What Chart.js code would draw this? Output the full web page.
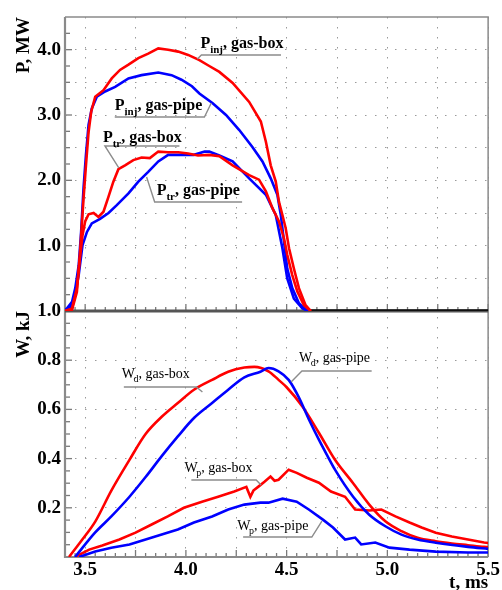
<!DOCTYPE html>
<html><head><meta charset="utf-8">
<script src="https://cdn.jsdelivr.net/npm/chart.js@4/dist/chart.umd.min.js"></script>
<style>html,body{margin:0;padding:0;background:#fff;}canvas{display:block;}</style>
</head><body>
<canvas id="c" width="502" height="590"></canvas>
<script>
// ---- tick values ----
const xTickValues = [3.5, 3.75, 4.0, 4.25, 4.5, 4.75, 5.0, 5.25, 5.5];
const pTickValues = [0.5, 1.0, 1.5, 2.0, 2.5, 3.0, 3.5, 4.0];
const wTickValues = [0.2, 0.4, 0.6, 0.8, 1.0];

// ---- top panel: power, MW ----
const pInjBoxT = [3.40,3.42,3.435,3.459,3.476,3.492,3.504,3.517,3.53,3.55,3.591,3.632,3.673,3.715,3.764,3.813,3.863,3.912,3.962,4.011,4.067,4.116,4.166,4.232,4.314,4.372,4.397,4.421,4.446,4.462,4.479,4.495,4.512,4.536,4.561,4.594,4.62];
const pInjBoxV = [0,0.01,0.02,0.29,0.96,1.72,2.23,2.74,3.05,3.28,3.38,3.56,3.69,3.77,3.87,3.94,4.02,4.00,3.97,3.92,3.84,3.75,3.66,3.49,3.20,2.90,2.59,2.23,1.98,1.67,1.47,1.27,0.96,0.65,0.35,0.09,0];

const pInjPipeT = [3.40,3.41,3.435,3.451,3.468,3.48,3.492,3.504,3.517,3.533,3.558,3.599,3.649,3.715,3.78,3.863,3.929,3.978,4.03,4.067,4.133,4.199,4.265,4.330,4.380,4.421,4.454,4.471,4.487,4.503,4.528,4.561,4.594,4.62];
const pInjPipeV = [0.02,0.04,0.14,0.35,0.70,1.21,1.88,2.39,2.85,3.10,3.28,3.36,3.43,3.56,3.61,3.65,3.61,3.54,3.44,3.33,3.18,3.00,2.77,2.51,2.29,2.03,1.78,1.47,1.06,0.65,0.35,0.12,0.02,0];

const pTrBoxT = [3.40,3.435,3.459,3.476,3.487,3.50,3.517,3.542,3.566,3.591,3.616,3.640,3.665,3.698,3.739,3.780,3.821,3.863,3.912,3.962,4.011,4.06,4.116,4.166,4.232,4.314,4.363,4.397,4.430,4.462,4.487,4.503,4.528,4.553,4.586,4.62];
const pTrBoxV = [0,0.04,0.35,0.86,1.16,1.37,1.48,1.50,1.44,1.52,1.75,1.98,2.17,2.23,2.31,2.35,2.34,2.44,2.43,2.43,2.41,2.38,2.39,2.37,2.23,2.08,2.01,1.83,1.57,1.37,1.11,0.86,0.55,0.30,0.09,0];

const pTrPipeT = [3.40,3.418,3.443,3.468,3.487,3.509,3.533,3.574,3.616,3.657,3.715,3.764,3.813,3.863,3.912,3.978,4.04,4.093,4.116,4.166,4.232,4.314,4.397,4.446,4.479,4.503,4.536,4.578,4.61];
const pTrPipeV = [0.01,0.02,0.14,0.55,1.01,1.21,1.34,1.41,1.50,1.62,1.80,1.98,2.13,2.29,2.39,2.39,2.39,2.44,2.44,2.38,2.29,2.03,1.78,1.47,0.96,0.50,0.19,0.04,0];

const pZeroT = [4.60, 5.50];
const pZeroV = [0, 0];

// ---- bottom panel: energy, kJ ----
const wdBoxT = [3.42,3.485,3.55,3.63,3.72,3.80,3.88,3.96,4.04,4.13,4.21,4.29,4.34,4.41,4.46,4.50,4.58,4.66,4.74,4.83,4.91,4.99,5.07,5.15,5.24,5.32,5.40,5.48,5.50];
const wdBoxV = [0.0,0.07,0.144,0.27,0.395,0.50,0.57,0.626,0.68,0.72,0.753,0.77,0.773,0.755,0.72,0.69,0.61,0.505,0.395,0.30,0.213,0.145,0.105,0.078,0.064,0.055,0.048,0.041,0.04];

const wdPipeT = [3.45,3.55,3.63,3.72,3.80,3.88,3.96,4.04,4.13,4.21,4.29,4.37,4.41,4.46,4.51,4.56,4.61,4.66,4.70,4.74,4.83,4.91,4.99,5.07,5.15,5.24,5.40,5.50];
const wdPipeV = [0.0,0.10,0.165,0.245,0.325,0.41,0.49,0.565,0.626,0.68,0.73,0.753,0.768,0.755,0.72,0.65,0.56,0.477,0.415,0.355,0.245,0.172,0.125,0.091,0.071,0.058,0.041,0.033];

const wpBoxT = [3.45,3.52,3.585,3.67,3.75,3.83,3.91,3.99,4.08,4.16,4.24,4.30,4.32,4.335,4.36,4.39,4.42,4.44,4.46,4.51,4.55,4.60,4.66,4.72,4.79,4.84,4.91,4.97,5.04,5.11,5.17,5.24,5.32,5.40,5.48,5.50];
const wpBoxV = [0.0,0.03,0.047,0.071,0.099,0.132,0.165,0.20,0.225,0.245,0.266,0.285,0.245,0.27,0.286,0.306,0.327,0.31,0.314,0.355,0.342,0.322,0.302,0.266,0.245,0.193,0.189,0.193,0.165,0.14,0.12,0.099,0.083,0.071,0.059,0.057];

const wpPipeT = [3.47,3.55,3.63,3.72,3.80,3.88,3.96,4.04,4.13,4.21,4.29,4.37,4.41,4.48,4.55,4.61,4.68,4.73,4.79,4.84,4.87,4.94,5.01,5.11,5.24,5.40,5.50];
const wpPipeV = [0.0,0.022,0.038,0.051,0.071,0.091,0.112,0.14,0.165,0.193,0.213,0.221,0.221,0.237,0.225,0.193,0.152,0.12,0.071,0.079,0.051,0.059,0.038,0.03,0.022,0.018,0.018];

// ---- annotation labels (text, anchor in data units, leader path in data units) ----
const labelTexts = [
  ['P','inj',', gas-box'], ['P','inj',', gas-pipe'], ['P','tr',', gas-box'], ['P','tr',', gas-pipe'],
  ['W','d',', gas-box'], ['W','d',', gas-pipe'], ['W','p',', gas-box'], ['W','p',', gas-pipe']
];
const labelAxis = ['yP','yP','yP','yP','yW','yW','yW','yW'];
const labelAt = [[4.072,4.026],[3.647,3.077],[3.588,2.587],[3.855,1.776],[3.682,0.728],[4.561,0.793],[3.993,0.346],[4.255,0.110]];
const labelPaths = [
  [[4.057,3.857],[4.077,3.918],[4.472,3.918]],
  [[3.647,2.970],[4.092,2.970],[4.126,3.184]],
  [[3.968,2.526],[3.598,2.526],[3.667,2.189]],
  [[4.279,1.668],[3.845,1.668],[3.805,2.051]],
  [[3.692,0.691],[4.052,0.691],[4.082,0.671]],
  [[4.922,0.756],[4.576,0.756],[4.522,0.711]],
  [[4.027,0.313],[4.349,0.313],[4.373,0.293]],
  [[4.284,0.081],[4.625,0.081],[4.675,0.146]]
];

const SERIF = '"Liberation Serif", "Times New Roman", serif';
const RED = '#ff0000', BLUE = '#0000ff';
const pts = (t, v) => t.map((x, i) => ({x: x, y: v[i]}));

const framePlugin = {
  id: 'frame',
  beforeDatasetsDraw(chart) {
    const ctx = chart.ctx, a = chart.chartArea;
    const x = chart.scales.x, yP = chart.scales.yP, yW = chart.scales.yW;
    ctx.save();
    ctx.strokeStyle = '#7a7a7a';
    ctx.lineWidth = 1.3;
    const xTicks = (yBase) => {
      for (let i = 0; i <= 42; i++) {
        const t = 3.4 + i * 0.05;
        const px = x.getPixelForValue(t);
        const major = Math.abs(t * 4 - Math.round(t * 4)) < 1e-6;
        ctx.beginPath(); ctx.moveTo(px, yBase); ctx.lineTo(px, yBase - (major ? 7 : 4)); ctx.stroke();
      }
    };
    xTicks(yP.bottom); xTicks(yW.bottom);
    for (let i = 1; i < 18; i++) {
      const v = i * 0.25, py = yP.getPixelForValue(v);
      ctx.beginPath(); ctx.moveTo(a.left, py); ctx.lineTo(a.left + (i % 4 === 0 ? 7 : 5), py); ctx.stroke();
    }
    for (let i = 1; i < 20; i++) {
      const v = i * 0.05, py = yW.getPixelForValue(v);
      ctx.beginPath(); ctx.moveTo(a.left, py); ctx.lineTo(a.left + (i % 4 === 0 ? 7 : 5), py); ctx.stroke();
    }
    // frame
    ctx.strokeStyle = '#8a8a8a';
    ctx.lineWidth = 1.5;
    ctx.beginPath(); ctx.moveTo(a.left, a.top); ctx.lineTo(a.right, a.top); ctx.lineTo(a.right, a.bottom); ctx.stroke();
    ctx.lineWidth = 2.2;
    ctx.beginPath(); ctx.moveTo(a.left, a.top); ctx.lineTo(a.left, a.bottom); ctx.lineTo(a.right, a.bottom); ctx.stroke();
    ctx.strokeStyle = '#555';
    ctx.lineWidth = 3;
    ctx.beginPath(); ctx.moveTo(a.left, yP.bottom); ctx.lineTo(a.right, yP.bottom); ctx.stroke();
    ctx.restore();
  },
  afterDatasetsDraw(chart) {
    const ctx = chart.ctx, x = chart.scales.x;
    ctx.save();
    labelTexts.forEach((txt, k) => {
      const ys = chart.scales[labelAxis[k]];
      const bold = labelAxis[k] === 'yP';
      const big = bold ? 16 : 14, small = bold ? 11 : 10, drop = bold ? 5 : 4;
      const w = bold ? 'bold ' : '';
      // leader
      ctx.strokeStyle = '#8c8c8c'; ctx.lineWidth = 1.4;
      ctx.beginPath();
      labelPaths[k].forEach((p, j) => {
        const px = x.getPixelForValue(p[0]), py = ys.getPixelForValue(p[1]);
        if (j === 0) ctx.moveTo(px, py); else ctx.lineTo(px, py);
      });
      ctx.stroke();
      // text
      let tx = x.getPixelForValue(labelAt[k][0]);
      const ty = ys.getPixelForValue(labelAt[k][1]);
      ctx.fillStyle = '#000'; ctx.textBaseline = 'alphabetic'; ctx.textAlign = 'left';
      ctx.font = w + big + 'px ' + SERIF;
      ctx.fillText(txt[0], tx, ty); tx += ctx.measureText(txt[0]).width - (bold ? 0 : 1.5);
      ctx.font = w + small + 'px ' + SERIF;
      ctx.fillText(txt[1], tx, ty + drop); tx += ctx.measureText(txt[1]).width;
      ctx.font = w + big + 'px ' + SERIF;
      ctx.fillText(txt[2], tx, ty);
    });
    ctx.restore();
  }
};

const line = (data, color, axis, width, smooth) => ({
  data: data, yAxisID: axis, borderColor: color, borderWidth: width || 2.6,
  pointRadius: 0, tension: smooth ? 0.4 : 0, cubicInterpolationMode: smooth ? 'monotone' : 'default', fill: false
});

const tickFont = {family: SERIF, size: 19, weight: 'bold'};

new Chart(document.getElementById('c'), {
  type: 'line',
  data: {
    datasets: [
      line(pts(pInjBoxT, pInjBoxV), RED, 'yP'),
      line(pts(pTrBoxT, pTrBoxV), RED, 'yP'),
      line(pts(pInjPipeT, pInjPipeV), BLUE, 'yP'),
      line(pts(pTrPipeT, pTrPipeV), BLUE, 'yP'),
      line(pts(pZeroT, pZeroV), '#111', 'yP', 3.5),
      line(pts(wdPipeT, wdPipeV), BLUE, 'yW', 2.6, true),
      line(pts(wpPipeT, wpPipeV), BLUE, 'yW'),
      line(pts(wdBoxT, wdBoxV), RED, 'yW', 2.6, true),
      line(pts(wpBoxT, wpBoxV), RED, 'yW')
    ]
  },
  plugins: [framePlugin],
  options: {
    responsive: false, animation: false, devicePixelRatio: 1,
    layout: {padding: {top: 17, right: 12, left: 0, bottom: 0}},
    plugins: {legend: {display: false}, tooltip: {enabled: false}},
    scales: {
      x: {
        type: 'linear', position: 'bottom', min: 3.4, max: 5.5,
        afterBuildTicks: s => { s.ticks = xTickValues.map(v => ({value: v})); },
        afterFit: s => { s.height = 33; },
        ticks: {
          autoSkip: false, maxRotation: 0, padding: 2, color: '#000', font: tickFont,
          callback: v => (Math.abs(v * 2 - Math.round(v * 2)) < 1e-9 ? v.toFixed(1) : '')
        },
        grid: {color: '#9a9a9a', lineWidth: 1, drawTicks: false},
        border: {display: false, dash: [1.5, 8.5]},
        title: {display: true, text: 't, ms', align: 'end', color: '#000',
          font: {family: SERIF, size: 19, weight: 'bold', lineHeight: 0.7}, padding: {top: 0, bottom: 0}}
      },
      yW: {
        type: 'linear', position: 'left', stack: 'panels', stackWeight: 246, min: 0, max: 1.0,
        afterBuildTicks: s => { s.ticks = wTickValues.map(v => ({value: v})); },
        afterFit: s => { s.width = 65; },
        ticks: {
          autoSkip: false, padding: 4, color: '#000', font: tickFont,
          callback: v => v.toFixed(1)
        },
        grid: {color: '#9a9a9a', lineWidth: 1, drawTicks: false},
        border: {display: false, dash: [1.5, 8.5]},
        title: {display: true, text: 'W, kJ', align: 'end', color: '#000',
          font: {family: SERIF, size: 19, weight: 'bold'}, padding: {top: 13, bottom: 0}}
      },
      yP: {
        type: 'linear', position: 'left', stack: 'panels', stackWeight: 294, min: 0, max: 4.5,
        afterBuildTicks: s => { s.ticks = pTickValues.map(v => ({value: v})); },
        afterFit: s => { s.width = 65; },
        ticks: {
          autoSkip: false, padding: 4, color: '#000', font: tickFont,
          callback: v => (Math.abs(v - Math.round(v)) < 1e-9 ? v.toFixed(1) : '')
        },
        grid: {color: '#9a9a9a', lineWidth: 1, drawTicks: false},
        border: {display: false, dash: [1.5, 8.5]},
        title: {display: true, text: 'P, MW', align: 'end', color: '#000',
          font: {family: SERIF, size: 19, weight: 'bold'}, padding: {top: 13, bottom: 0}}
      }
    }
  }
});
</script>
</body></html>
